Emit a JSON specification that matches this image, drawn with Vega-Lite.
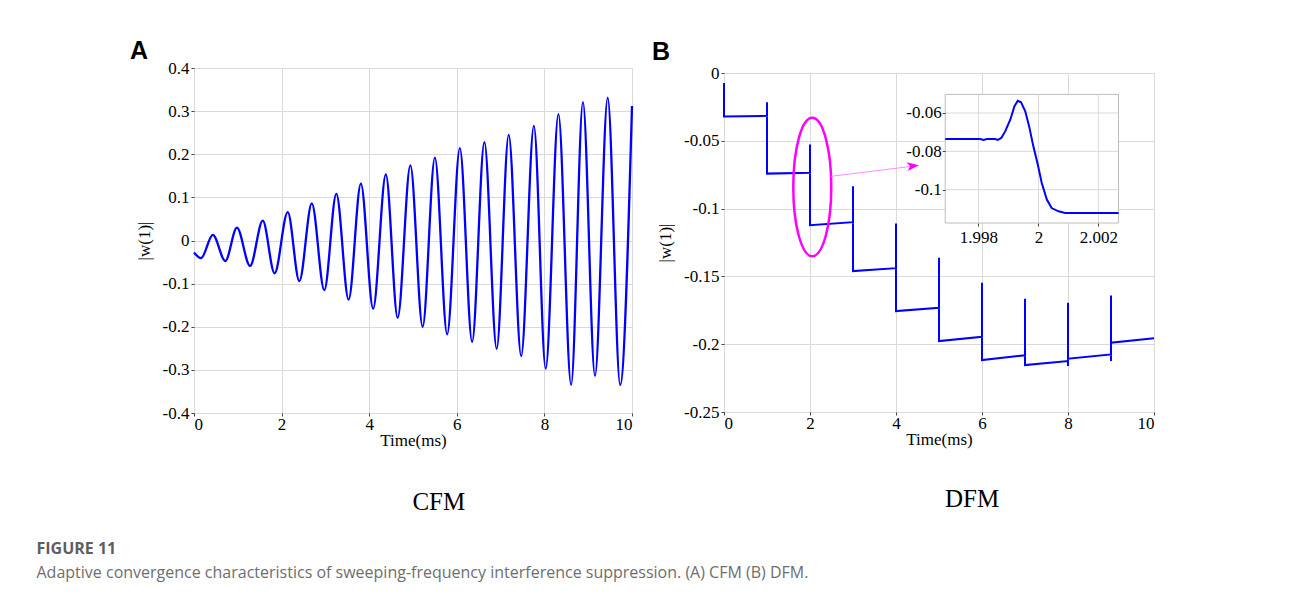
{
  "$schema": "https://vega.github.io/schema/vega-lite/v6.json",
  "background": "white",
  "padding": {"left": 36, "top": 38, "right": 5, "bottom": 5},
  "config": {
    "locale": {"number": {"decimal": ".", "thousands": ",", "grouping": [3], "currency": ["$", ""], "minus": "-"}},
    "view": {"stroke": "#cfcfcf", "strokeWidth": 1},
    "style": {"guide-label": {"font": "Liberation Serif", "fontSize": 17, "fill": "#000"}, "guide-title": {"font": "Liberation Serif", "fontSize": 17, "fill": "#000", "fontWeight": "normal"}},
    "axis": {"labelFont": "Liberation Serif", "labelFontSize": 17, "labelColor": "#000", "titleFont": "Liberation Serif", "titleFontSize": 17, "titleFontWeight": "normal", "titleColor": "#000", "gridColor": "#dadada", "gridWidth": 1, "domain": false, "tickColor": "#444", "tickSize": 3, "labelPadding": 2, "format": "~r"}
  },
  "title": {
    "text": "FIGURE 11",
    "subtitle": "Adaptive convergence characteristics of sweeping-frequency interference suppression. (A) CFM (B) DFM.",
    "orient": "bottom", "anchor": "start", "frame": "bounds", "offset": 26, "dx": -93,
    "font": "Open Sans", "fontSize": 16, "fontWeight": "bold", "color": "#5e5e5e",
    "subtitleFont": "Open Sans", "subtitleFontSize": 16, "subtitleColor": "#6e6e6e", "subtitlePadding": 8
  },
  "datasets": {
    "cfm": [
      {"t": 0, "w": -0.028}, {"t": 0.16, "w": -0.041}, {"t": 0.43, "w": 0.013}, {"t": 0.715, "w": -0.0475},
      {"t": 0.98, "w": 0.030}, {"t": 1.28, "w": -0.059}, {"t": 1.57, "w": 0.046}, {"t": 1.84, "w": -0.076},
      {"t": 2.14, "w": 0.066}, {"t": 2.405, "w": -0.094}, {"t": 2.69, "w": 0.086}, {"t": 2.975, "w": -0.115},
      {"t": 3.25, "w": 0.108}, {"t": 3.53, "w": -0.137}, {"t": 3.81, "w": 0.132}, {"t": 4.09, "w": -0.158},
      {"t": 4.38, "w": 0.153}, {"t": 4.65, "w": -0.179}, {"t": 4.94, "w": 0.174}, {"t": 5.22, "w": -0.200},
      {"t": 5.50, "w": 0.192}, {"t": 5.78, "w": -0.2175}, {"t": 6.07, "w": 0.214}, {"t": 6.35, "w": -0.235},
      {"t": 6.63, "w": 0.228}, {"t": 6.91, "w": -0.251}, {"t": 7.185, "w": 0.245}, {"t": 7.47, "w": -0.268},
      {"t": 7.76, "w": 0.266}, {"t": 8.03, "w": -0.297}, {"t": 8.32, "w": 0.293}, {"t": 8.61, "w": -0.335},
      {"t": 8.88, "w": 0.321}, {"t": 9.155, "w": -0.314}, {"t": 9.445, "w": 0.331}, {"t": 9.73, "w": -0.335},
      {"t": 10, "w": 0.312}
    ],
    "dfm": [
      {"i": 0, "t": 0, "w": -0.0074}, {"i": 1, "t": 0, "w": -0.0320}, {"i": 2, "t": 1, "w": -0.0316},
      {"i": 3, "t": 1, "w": -0.0216}, {"i": 4, "t": 1, "w": -0.0742}, {"i": 5, "t": 2, "w": -0.0736},
      {"i": 6, "t": 2, "w": -0.0528}, {"i": 7, "t": 2, "w": -0.1122}, {"i": 8, "t": 3, "w": -0.1100},
      {"i": 9, "t": 3, "w": -0.0835}, {"i": 10, "t": 3, "w": -0.1461}, {"i": 11, "t": 4, "w": -0.1439},
      {"i": 12, "t": 4, "w": -0.1110}, {"i": 13, "t": 4, "w": -0.1756}, {"i": 14, "t": 5, "w": -0.1731},
      {"i": 15, "t": 5, "w": -0.1363}, {"i": 16, "t": 5, "w": -0.1977}, {"i": 17, "t": 6, "w": -0.1945},
      {"i": 18, "t": 6, "w": -0.1547}, {"i": 19, "t": 6, "w": -0.2117}, {"i": 20, "t": 7, "w": -0.2082},
      {"i": 21, "t": 7, "w": -0.1665}, {"i": 22, "t": 7, "w": -0.2154}, {"i": 23, "t": 8, "w": -0.2124},
      {"i": 24, "t": 8, "w": -0.2161}, {"i": 25, "t": 8, "w": -0.1694}, {"i": 26, "t": 8, "w": -0.2107},
      {"i": 27, "t": 9, "w": -0.2075}, {"i": 28, "t": 9, "w": -0.1640}, {"i": 29, "t": 9, "w": -0.2124},
      {"i": 30, "t": 9, "w": -0.1989}, {"i": 31, "t": 10, "w": -0.1957}
    ],
    "inset": [
      {"t": 1.99689, "w": -0.0736}, {"t": 1.99806, "w": -0.0736}, {"t": 1.99817, "w": -0.0741},
      {"t": 1.99828, "w": -0.0736}, {"t": 1.99856, "w": -0.0736}, {"t": 1.99864, "w": -0.0741},
      {"t": 1.99876, "w": -0.0730}, {"t": 1.99889, "w": -0.0696}, {"t": 1.99906, "w": -0.0635},
      {"t": 1.9992, "w": -0.0565}, {"t": 1.99931, "w": -0.0536}, {"t": 1.99942, "w": -0.0544},
      {"t": 1.99956, "w": -0.0591}, {"t": 1.99969, "w": -0.0670}, {"t": 1.99983, "w": -0.0774},
      {"t": 1.99998, "w": -0.0870}, {"t": 2.00011, "w": -0.0965}, {"t": 2.00028, "w": -0.1052},
      {"t": 2.00044, "w": -0.1096}, {"t": 2.00067, "w": -0.1113}, {"t": 2.00089, "w": -0.1122},
      {"t": 2.00267, "w": -0.1122}
    ]
  },
  "columns": 2,
  "align": "none",
  "spacing": 14,
  "concat": [
    {
      "width": 438,
      "height": 345,
      "title": {"text": "A", "anchor": "start", "frame": "group", "dx": -64, "offset": -5, "font": "Liberation Sans", "fontSize": 25, "fontWeight": "bold", "color": "#000"},
      "layer": [
        {
          "data": {"name": "cfm"},
          "mark": {"type": "line", "color": "#0000ff", "strokeWidth": 2.3, "interpolate": "monotone"},
          "encoding": {
            "x": {"field": "t", "type": "quantitative", "scale": {"domain": [0, 10], "nice": false}, "axis": {"values": [0, 2, 4, 6, 8, 10], "title": "Time(ms)", "labelPadding": 0, "titlePadding": 0, "labelFont": "Liberation Serif", "format": "~r"}},
            "y": {"field": "w", "type": "quantitative", "scale": {"domain": [-0.4, 0.4], "nice": false, "zero": false}, "axis": {"values": [-0.4, -0.3, -0.2, -0.1, 0, 0.1, 0.2, 0.3, 0.4], "title": "|w(1)|", "titlePadding": 9, "labelFont": "Liberation Serif", "format": "~r"}}
          }
        },
        {
          "data": {"values": [{"label": "CFM", "t": 5.59, "w": -0.606}]},
          "mark": {"type": "text", "font": "Liberation Serif", "fontSize": 25, "baseline": "middle", "align": "center"},
          "encoding": {
            "x": {"field": "t", "type": "quantitative"},
            "y": {"field": "w", "type": "quantitative"},
            "text": {"field": "label"}
          }
        }
      ]
    },
    {
      "spacing": 4,
      "bounds": "flush",
      "vconcat": [
        {
          "width": 430,
          "height": 1,
          "view": {"stroke": null},
          "title": {"text": "B", "anchor": "start", "frame": "group", "dx": -72, "offset": 1, "font": "Liberation Sans", "fontSize": 25, "fontWeight": "bold", "color": "#000"},
          "data": {"values": [{}]},
          "mark": {"type": "point", "opacity": 0}
        },
        {
          "width": 430,
          "height": 339,
          "layer": [
            {
              "layer": [
                {
                  "data": {"name": "dfm"},
                  "mark": {"type": "line", "color": "#0000ff", "strokeWidth": 2},
                  "encoding": {
                    "x": {"field": "t", "type": "quantitative", "scale": {"domain": [0, 10], "nice": false}, "axis": {"values": [0, 2, 4, 6, 8, 10], "title": "Time(ms)", "labelPadding": 0, "titlePadding": 0, "labelFont": "Liberation Serif", "format": "~r"}},
                    "y": {"field": "w", "type": "quantitative", "scale": {"domain": [-0.25, 0], "nice": false, "zero": false}, "axis": {"values": [-0.25, -0.2, -0.15, -0.1, -0.05, 0], "title": "|w(1)|", "titlePadding": 9, "labelFont": "Liberation Serif", "format": "~r"}},
                    "order": {"field": "i", "type": "quantitative"}
                  }
                },
                {
                  "data": {"values": [{"t": 2.053, "w": -0.0841}]},
                  "mark": {"type": "point", "shape": "M0,-1A0.2746,1,0,1,1,0,1A0.2746,1,0,1,1,0,-1Z", "size": 19155, "filled": false, "stroke": "#ff00ff", "strokeWidth": 2.5, "opacity": 1},
                  "encoding": {
                    "x": {"field": "t", "type": "quantitative"},
                    "y": {"field": "w", "type": "quantitative"}
                  }
                },
                {
                  "data": {"values": [{"t": 2.493, "w": -0.0762, "t2": 4.42, "w2": -0.0686}]},
                  "mark": {"type": "rule", "color": "#ff8cff", "strokeWidth": 1},
                  "encoding": {
                    "x": {"field": "t", "type": "quantitative"},
                    "y": {"field": "w", "type": "quantitative"},
                    "x2": {"field": "t2"},
                    "y2": {"field": "w2"}
                  }
                },
                {
                  "data": {"values": [{"t": 4.397, "w": -0.0685}]},
                  "mark": {"type": "point", "shape": "M1,0L-1,-0.75L-0.5,0L-1,0.75Z", "size": 144, "filled": true, "color": "#ff00ff", "opacity": 1, "angle": -7},
                  "encoding": {
                    "x": {"field": "t", "type": "quantitative"},
                    "y": {"field": "w", "type": "quantitative"}
                  }
                },
                {
                  "data": {"values": [{"label": "DFM", "t": 5.77, "w": -0.3145}]},
                  "mark": {"type": "text", "font": "Liberation Serif", "fontSize": 25, "baseline": "middle", "align": "center"},
                  "encoding": {
                    "x": {"field": "t", "type": "quantitative"},
                    "y": {"field": "w", "type": "quantitative"},
                    "text": {"field": "label"}
                  }
                }
              ]
            },
            {
              "layer": [
                {
                  "data": {"values": [{"t0": 1.99689, "t1": 2.00267, "w0": -0.1174, "w1": -0.0503}]},
                  "mark": {"type": "rect", "fill": "white", "stroke": "#bdbdbd", "strokeWidth": 1},
                  "encoding": {
                    "x": {"field": "t0", "type": "quantitative", "scale": {"domain": [1.99689, 2.00267], "range": [221.2, 394.5], "nice": false, "zero": false}, "axis": {"orient": "bottom", "offset": -189, "values": [1.998, 2, 2.002], "title": null, "grid": false, "zindex": 2, "labelPadding": 3, "labelFont": "Liberation Serif", "format": "~r"}},
                    "x2": {"field": "t1"},
                    "y": {"field": "w0", "type": "quantitative", "scale": {"domain": [-0.1174, -0.0503], "range": [150, 21.4], "nice": false, "zero": false}, "axis": {"orient": "left", "offset": -221.2, "values": [-0.1, -0.08, -0.06], "title": null, "grid": false, "zindex": 2, "labelPadding": 1, "labelFont": "Liberation Serif", "format": "~r"}},
                    "y2": {"field": "w1"}
                  }
                },
                {
                  "data": {"values": [{"g": 1.998}, {"g": 2}, {"g": 2.002}]},
                  "mark": {"type": "rule", "color": "#dadada", "strokeWidth": 1},
                  "encoding": {
                    "x": {"field": "g", "type": "quantitative"},
                    "y": {"datum": -0.1174, "type": "quantitative"},
                    "y2": {"datum": -0.0503}
                  }
                },
                {
                  "data": {"values": [{"g": -0.06}, {"g": -0.08}, {"g": -0.1}]},
                  "mark": {"type": "rule", "color": "#dadada", "strokeWidth": 1},
                  "encoding": {
                    "y": {"field": "g", "type": "quantitative"},
                    "x": {"datum": 1.99689, "type": "quantitative"},
                    "x2": {"datum": 2.00267}
                  }
                },
                {
                  "data": {"name": "inset"},
                  "mark": {"type": "line", "color": "#0000ff", "strokeWidth": 2},
                  "encoding": {
                    "x": {"field": "t", "type": "quantitative"},
                    "y": {"field": "w", "type": "quantitative"}
                  }
                }
              ]
            }
          ],
          "resolve": {"scale": {"x": "independent", "y": "independent"}, "axis": {"x": "independent", "y": "independent"}}
        }
      ]
    }
  ]
}
